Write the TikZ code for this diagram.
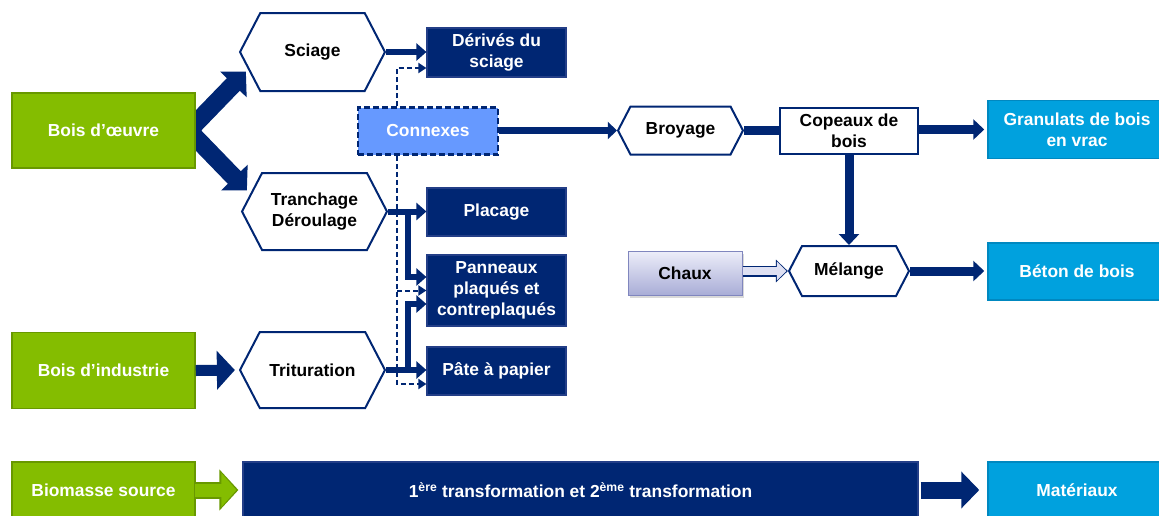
\documentclass[tikz,border=0pt]{standalone}
\usepackage{fontspec}
\setmainfont{Liberation Sans}
\usetikzlibrary{arrows.meta,shapes.symbols,shadows,calc,backgrounds}

\definecolor{navy}{RGB}{0,38,115}
\definecolor{navyedge}{RGB}{35,62,135}
\definecolor{leaf}{RGB}{132,189,0}
\definecolor{leafdark}{RGB}{104,152,0}
\definecolor{sky}{RGB}{0,161,222}
\definecolor{skydark}{RGB}{0,136,192}
\definecolor{connexblue}{RGB}{102,153,255}
\definecolor{chauxtop}{RGB}{236,237,249}
\definecolor{chauxbot}{RGB}{168,172,214}
\definecolor{chauxedge}{RGB}{128,134,190}

\begin{document}
\begin{tikzpicture}[
    x=1pt, y=-1pt,
    font=\fontsize{17.4}{21}\selectfont\bfseries,
    srcbox/.style={
      draw=leafdark, line width=1.5pt, fill=leaf, text=white,
      minimum width=183pt, inner sep=0pt, align=center
    },
    procbox/.style={
      signal, signal to=west and east, signal pointer angle=125,
      draw=navy, line width=2pt, fill=white, text=black,
      minimum width=145pt, inner sep=0pt, align=center
    },
    prodbox/.style={
      draw=navyedge, line width=1.2pt, fill=navy, text=white,
      minimum width=139pt, inner sep=0pt, align=center
    },
    outbox/.style={
      draw=skydark, line width=1.5pt, fill=sky, text=white,
      minimum width=178pt, inner sep=0pt, align=center
    },
    flow/.style={
      draw=navy, line width=6pt,
      -{Triangle[width=17pt,length=10pt]}
    },
    bigflow/.style={
      draw=navy, line width=9pt,
      -{Triangle[width=20pt,length=11pt]}
    },
    dashflow/.style={
      draw=navy, line width=2pt, dash pattern=on 5pt off 3pt,
      -{Triangle[width=10pt,length=8pt]}
    },
    fork/.style={
      draw=navy, line width=18pt, line join=miter,
      {Triangle[width=36pt,length=18pt]}-{Triangle[width=36pt,length=18pt]}
    }
  ]

    \clip (0,0) rectangle (1159,515);

    % sources
    \node[srcbox, minimum height=75pt] (oeuvre) at (103.5,130.5) {Bois d’œuvre};
    \node[srcbox, minimum height=76pt] (industrie) at (103.5,370.5) {Bois d’industrie};

    % premiere transformation
    \node[procbox, minimum height=78pt] (sciage) at (312.5,52) {Sciage};
    \node[procbox, minimum height=77pt] (tranchage) at (314.5,211.5) {Tranchage\\Déroulage};
    \node[procbox, minimum height=76pt] (trituration) at (312.5,370) {Trituration};

    % produits
    \node[prodbox, minimum height=49pt] (derives) at (496.5,52.5) {Dérivés du\\sciage};
    \node[prodbox, minimum height=48pt] (placage) at (496.5,212) {Placage};
    \node[prodbox, minimum height=71pt] (panneaux) at (496.5,290.5) {Panneaux\\plaqués et\\contreplaqués};
    \node[prodbox, minimum height=48pt] (pate) at (496.5,371) {Pâte à papier};

    \node[
      draw=navy,
      line width=2.5pt,
      dash pattern=on 6pt off 3pt,
      fill=connexblue,
      text=white,
      minimum width=140pt,
      minimum height=47pt,
      inner sep=0pt
    ] (connexes) at (428,131) {Connexes};

    % seconde transformation
    \node[procbox, minimum width=125pt, minimum height=48pt] (broyage) at (680.5,130.5) {Broyage};
    \node[
      draw=navy,
      line width=2pt,
      fill=white,
      minimum width=138pt,
      minimum height=46pt,
      inner sep=0pt,
      align=center
    ] (copeaux) at (849,131) {Copeaux de\\bois};
    \node[procbox, minimum width=120pt, minimum height=50pt] (melange) at (849,271) {Mélange};
    \node[
      draw=chauxedge,
      line width=1pt,
      top color=chauxtop,
      bottom color=chauxbot,
      drop shadow={shadow xshift=2pt, shadow yshift=-2pt, opacity=0.3},
      minimum width=114pt,
      minimum height=44pt,
      inner sep=0pt
    ] (chaux) at (685,273.5) {Chaux};

    % materiaux
    \node[outbox, minimum height=58pt] (granulats) at (1077,129.5) {Granulats de bois\\en vrac};
    \node[outbox, minimum height=57pt] (beton) at (1077,271.5) {Béton de bois};

    % Bois d'oeuvre vers sciage et tranchage
    \begin{scope}[on background layer]
      \draw[fork] ($(sciage.west)+(7,19.5)$) -- ($(oeuvre.east)+(-7,0)$) -- ($(tranchage.west)+(6,-21)$);
    \end{scope}

    \draw[draw=navy, line width=11pt, -{Triangle[width=38pt,length=18pt]}, shorten >=4pt]
      (industrie.east) -- (trituration.west);

    % premiere transformation vers produits
    \draw[flow] (sciage.east) -- (sciage.east -| derives.west);
    \draw[flow] (tranchage.east) -- (tranchage.east -| placage.west);
    \draw[flow] ([xshift=20pt]tranchage.east) |- ([yshift=13.5pt]panneaux.west);
    \draw[flow] (trituration.east) -- (trituration.east -| pate.west);
    \draw[flow] ([xshift=22pt]trituration.east) |- ([yshift=-13.5pt]panneaux.west);

    % connexes (pointilles)
    \draw[dashflow] ([xshift=-31pt]connexes.north) |- ([yshift=-15.5pt]derives.west);
    \draw[dashflow] ([xshift=-31pt]connexes.south) |- ([yshift=-13pt]pate.west);
    \draw[dashflow] ([xshift=-31pt]connexes.south |- panneaux.west) -- (panneaux.west);

    % connexes vers broyage
    \draw[draw=navy, line width=7pt, -{Triangle[width=17pt,length=9pt]}] (connexes.east |- broyage.west) -- (broyage.west);
    \draw[draw=navy, line width=9pt] (broyage.east) -- (broyage.east -| copeaux.west);
    \draw[bigflow, shorten >=3pt] (copeaux.east |- granulats.west) -- (granulats.west);
    \draw[bigflow] (copeaux.south) -- (melange.north);
    \draw[bigflow, shorten >=3pt] (melange.east) -- (melange.east -| beton.west);

    % chaux (fleche creuse)
    \draw[draw=navy, line width=11pt, -{Triangle[width=22pt,length=12pt]}] (chaux.east |- melange.west) -- (melange.west);
    \draw[draw=chauxtop!80!chauxbot, line width=8.5pt, -{Triangle[width=18pt,length=9.5pt]}, shorten >=1.4pt] (chaux.east |- melange.west) -- (melange.west);

    % bandeau du bas
    \node[srcbox, minimum height=56pt] (biomasse) at (103.5,490) {Biomasse source};
    \node[
      draw=navyedge,
      line width=1.2pt,
      fill=navy,
      text=white,
      minimum width=675pt,
      minimum height=56pt,
      inner sep=0pt
    ] (transfo) at (580.5,490) {1\textsuperscript{ère} transformation et 2\textsuperscript{ème} transformation};
    \node[outbox, minimum height=56pt] (materiaux) at (1077,490) {Matériaux};

    \draw[draw=leafdark, line width=17pt, -{Triangle[width=40pt,length=19pt]}, shorten >=4pt]
      (biomasse.east) -- (transfo.west);
    \draw[draw=leaf, line width=13pt, -{Triangle[width=33pt,length=15pt]}, shorten >=6pt, shorten <=-1pt]
      (biomasse.east) -- (transfo.west);
    \draw[draw=navy, line width=17pt, -{Triangle[width=36pt,length=18pt]}, shorten >=8pt, shorten <=2pt]
      (transfo.east) -- (materiaux.west);

  \end{tikzpicture}
\end{document}
